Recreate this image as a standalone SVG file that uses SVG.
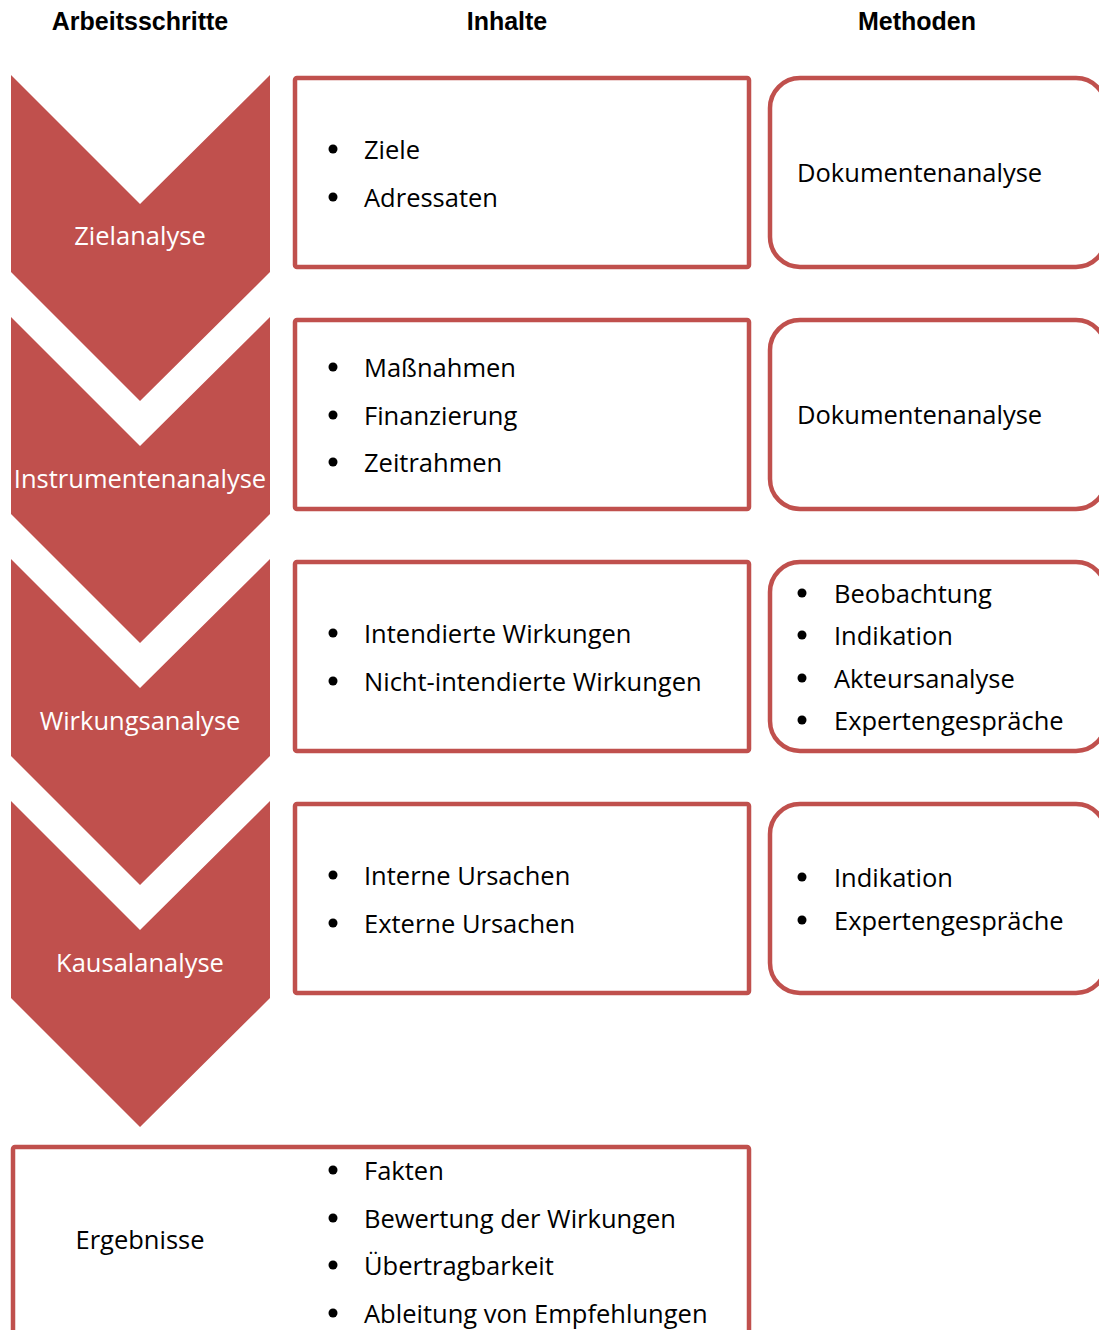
<svg xmlns="http://www.w3.org/2000/svg" width="1099" height="1330" viewBox="0 0 1099 1330">
<style>
.hdr{font-family:"Liberation Sans",Arial,sans-serif;font-weight:bold;font-size:25px;fill:#000;text-anchor:middle}
.chev{fill:#C0504D}
.ctxt{font-family:"Open Sans","Noto Sans",sans-serif;font-size:25.5px;fill:#fff;text-anchor:middle}
.box{fill:#fff;stroke:#C0504D;stroke-width:4.5}
.t{font-family:"Open Sans","Noto Sans",sans-serif;font-size:25.5px;fill:#000}
.b{fill:#000}
</style>
<rect width="1099" height="1330" fill="#fff"/>
<g id="headers">
<text class="hdr" x="140" y="30">Arbeitsschritte</text>
<text class="hdr" x="507" y="30">Inhalte</text>
<text class="hdr" x="917" y="30">Methoden</text>
</g>
<g id="step1">
<polygon class="chev" points="11,75 140,204 270,75 270,272 140,401 11,272"/>
<text class="ctxt" x="140" y="245">Zielanalyse</text>
</g>
<g id="step2">
<polygon class="chev" points="11,317 140,446 270,317 270,514 140,643 11,514"/>
<text class="ctxt" x="140" y="488">Instrumentenanalyse</text>
</g>
<g id="step3">
<polygon class="chev" points="11,559 140,688 270,559 270,756 140,885 11,756"/>
<text class="ctxt" x="140" y="730">Wirkungsanalyse</text>
</g>
<g id="step4">
<polygon class="chev" points="11,801 140,930 270,801 270,998 140,1127 11,998"/>
<text class="ctxt" x="140" y="972">Kausalanalyse</text>
</g>
<g id="inhalt1">
<rect class="box" x="295" y="78" width="454" height="189" rx="2"/>
<circle class="b" cx="333" cy="149" r="4.5"/><text class="t" x="364" y="159">Ziele</text>
<circle class="b" cx="333" cy="197" r="4.5"/><text class="t" x="364" y="207">Adressaten</text>
</g>
<g id="inhalt2">
<rect class="box" x="295" y="320" width="454" height="189" rx="2"/>
<circle class="b" cx="333" cy="367" r="4.5"/><text class="t" x="364" y="377">Maßnahmen</text>
<circle class="b" cx="333" cy="415" r="4.5"/><text class="t" x="364" y="425">Finanzierung</text>
<circle class="b" cx="333" cy="462" r="4.5"/><text class="t" x="364" y="472">Zeitrahmen</text>
</g>
<g id="inhalt3">
<rect class="box" x="295" y="562" width="454" height="189" rx="2"/>
<circle class="b" cx="333" cy="633" r="4.5"/><text class="t" x="364" y="643">Intendierte Wirkungen</text>
<circle class="b" cx="333" cy="681" r="4.5"/><text class="t" x="364" y="691">Nicht-intendierte Wirkungen</text>
</g>
<g id="inhalt4">
<rect class="box" x="295" y="804" width="454" height="189" rx="2"/>
<circle class="b" cx="333" cy="875" r="4.5"/><text class="t" x="364" y="885">Interne Ursachen</text>
<circle class="b" cx="333" cy="923" r="4.5"/><text class="t" x="364" y="933">Externe Ursachen</text>
</g>
<g id="methode1">
<rect class="box" x="770" y="78" width="336" height="189" rx="30"/>
<text class="t" x="797" y="182">Dokumentenanalyse</text>
</g>
<g id="methode2">
<rect class="box" x="770" y="320" width="336" height="189" rx="30"/>
<text class="t" x="797" y="424">Dokumentenanalyse</text>
</g>
<g id="methode3">
<rect class="box" x="770" y="562" width="336" height="189" rx="30"/>
<circle class="b" cx="802" cy="593" r="4.5"/><text class="t" x="834" y="603">Beobachtung</text>
<circle class="b" cx="802" cy="635" r="4.5"/><text class="t" x="834" y="645">Indikation</text>
<circle class="b" cx="802" cy="678" r="4.5"/><text class="t" x="834" y="688">Akteursanalyse</text>
<circle class="b" cx="802" cy="720" r="4.5"/><text class="t" x="834" y="730">Expertengespräche</text>
</g>
<g id="methode4">
<rect class="box" x="770" y="804" width="336" height="189" rx="30"/>
<circle class="b" cx="802" cy="877" r="4.5"/><text class="t" x="834" y="887">Indikation</text>
<circle class="b" cx="802" cy="920" r="4.5"/><text class="t" x="834" y="930">Expertengespräche</text>
</g>
<g id="ergebnisse">
<rect class="box" x="13" y="1147" width="736" height="220" rx="2"/>
<text class="t" x="140" y="1249" text-anchor="middle">Ergebnisse</text>
<circle class="b" cx="333" cy="1170" r="4.5"/><text class="t" x="364" y="1180">Fakten</text>
<circle class="b" cx="333" cy="1218" r="4.5"/><text class="t" x="364" y="1228">Bewertung der Wirkungen</text>
<circle class="b" cx="333" cy="1265" r="4.5"/><text class="t" x="364" y="1275">Übertragbarkeit</text>
<circle class="b" cx="333" cy="1313" r="4.5"/><text class="t" x="364" y="1323">Ableitung von Empfehlungen</text>
</g>
<g id="connectors"/>
</svg>
